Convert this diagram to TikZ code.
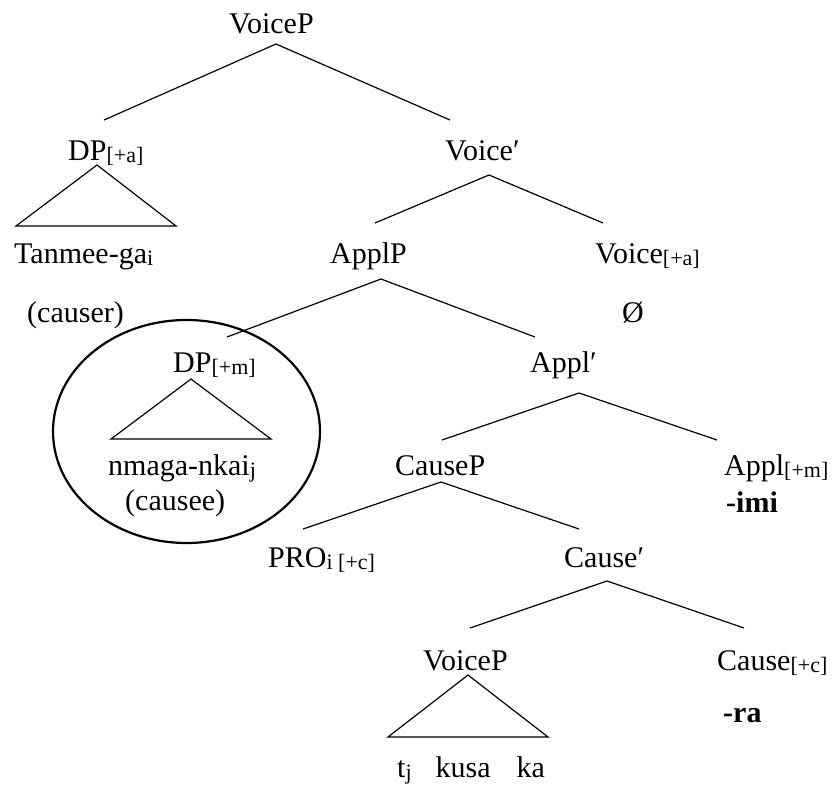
\documentclass[tikz,border=0pt]{standalone}
\usepackage{fontspec}
\setmainfont{Liberation Serif}
\newcommand\sbx[1]{\raisebox{-2pt}{\fontsize{22}{22}\selectfont #1}}
\begin{document}
\begin{tikzpicture}[x=1pt,y=-1pt,
  lab/.style={anchor=base west, inner sep=0pt, font=\fontsize{30}{36}\selectfont},
  br/.style={line width=1.2pt},
  circ/.style={line width=2.2pt}]
\useasboundingbox (0,0) rectangle (832,784);
% labels
\node[lab] (vp) at (229,34) {VoiceP};
\node[lab] (dpa) at (68,160) {DP\sbx{[+a]}};
\node[lab] (vbar) at (445,160) {Voice′};
\node[lab] (tan) at (14,263) {Tanmee-ga\sbx{i}};
\node[lab] (applp) at (330,263) {ApplP};
\node[lab] (voa) at (595,263) {Voice\sbx{[+a]}};
\node[lab] (causer) at (27,322) {(causer)};
\node[lab] (null) at (622,322) {Ø};
\node[lab] (dpm) at (173,372) {DP\sbx{[+m]}};
\node[lab] (applbar) at (530,372) {Appl′};
\node[lab] (nmaga) at (108,475) {nmaga-nkai\sbx{j}};
\node[lab] (causep) at (395,475) {CauseP};
\node[lab] (applm) at (724,475) {Appl\sbx{[+m]}};
\node[lab] (causee) at (125,510) {(causee)};
\node[lab] (imi) at (726,512) {\bfseries -imi};
\node[lab] (pro) at (268,567) {PRO\sbx{i [+c]}};
\node[lab] (cbar) at (564,567) {Cause′};
\node[lab] (vp2) at (423,670) {VoiceP};
\node[lab] (causec) at (717,670) {Cause\sbx{[+c]}};
\node[lab] (ra) at (723,722) {\bfseries -ra};
\node[lab] (tkk) at (397,777) {t\sbx{j}\hspace{24pt}kusa\hspace{26pt}ka};
% branch points
\coordinate (a1) at (276,44);  \coordinate (a1l) at (104,120); \coordinate (a1r) at (450,120);
\coordinate (a2) at (489,175); \coordinate (a2l) at (375,223); \coordinate (a2r) at (603,223);
\coordinate (a3) at (381,279); \coordinate (a3l) at (227,337); \coordinate (a3r) at (535,337);
\coordinate (a4) at (579,393); \coordinate (a4l) at (442,440); \coordinate (a4r) at (717,440);
\coordinate (a5) at (441,482); \coordinate (a5l) at (303,529); \coordinate (a5r) at (579,529);
\coordinate (a6) at (607,581); \coordinate (a6l) at (470,628); \coordinate (a6r) at (744,628);
\draw[br] (a1l) -- (a1) -- (a1r);
\draw[br] (a2l) -- (a2) -- (a2r);
\draw[br] (a3l) -- (a3) -- (a3r);
\draw[br] (a4l) -- (a4) -- (a4r);
\draw[br] (a5l) -- (a5) -- (a5r);
\draw[br] (a6l) -- (a6) -- (a6r);
% triangles
\coordinate (t1) at (97,165);  \coordinate (t1l) at (16,226);  \coordinate (t1r) at (176,226);
\coordinate (t2) at (191,379); \coordinate (t2l) at (111,439); \coordinate (t2r) at (271,439);
\coordinate (t3) at (468,675); \coordinate (t3l) at (388,737); \coordinate (t3r) at (548,737);
\draw[br] (t1) -- (t1l) -- (t1r) -- cycle;
\draw[br] (t2) -- (t2l) -- (t2r) -- cycle;
\draw[br] (t3) -- (t3l) -- (t3r) -- cycle;
% circle round the causee
\draw[circ] (186.5,431.5) ellipse [x radius=133.5, y radius=111.5];
\end{tikzpicture}
\end{document}
